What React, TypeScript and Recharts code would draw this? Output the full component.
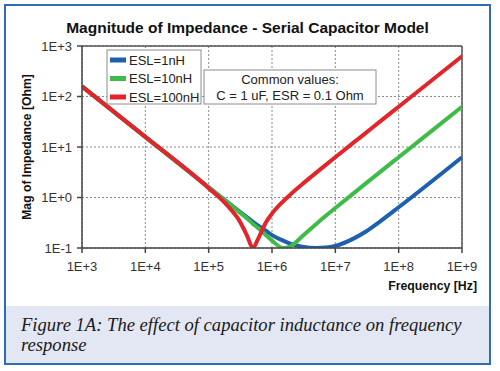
import { LineChart, Line, XAxis, YAxis, CartesianGrid, ReferenceLine } from "recharts";

// frequency points [Hz]
const frequencies = [
  1e3, 1e4, 1e5, 2e5, 3e5, 4e5, 5e5, 6e5, 8e5, 1e6, 1.5e6, 2e6, 3e6, 5e6, 7e6, 1e7, 2e7, 3e7, 5e7, 1e8, 1e9,
];

// |Z| [Ohm] per ESL
const esl1nH = [
  159, 15.9, 1.59, 0.8, 0.54, 0.41, 0.33, 0.28, 0.22, 0.18, 0.14, 0.12, 0.106, 0.1, 0.102, 0.11, 0.157, 0.21, 0.33, 0.64, 6.28,
];
const esl10nH = [
  159, 15.9, 1.585, 0.79, 0.52, 0.39, 0.3, 0.25, 0.18, 0.14, 0.1, 0.11, 0.17, 0.3, 0.43, 0.62, 1.25, 1.88, 3.14, 6.28, 62.8,
];
const esl100nH = [
  159, 15.9, 1.53, 0.68, 0.36, 0.18, 0.1, 0.15, 0.32, 0.48, 0.84, 1.18, 1.83, 3.11, 4.38, 6.27, 12.6, 18.8, 31.4, 62.8, 628,
];

const xTicks = [1e3, 1e4, 1e5, 1e6, 1e7, 1e8, 1e9];
const yTicks = [0.1, 1, 10, 100, 1000];

const series = [
  { key: "esl1", name: "ESL=1nH", color: "#1c60ae" },
  { key: "esl10", name: "ESL=10nH", color: "#3fbb47" },
  { key: "esl100", name: "ESL=100nH", color: "#e2252a" },
];

const data = frequencies.map((f, i) => ({
  f,
  esl1: esl1nH[i],
  esl10: esl10nH[i],
  esl100: esl100nH[i],
}));

const sciLabel = (v: number) => {
  const e = Math.round(Math.log10(v));
  return `1E${e < 0 ? "-" : "+"}${Math.abs(e)}`;
};

const FONT = '"Liberation Sans", Arial, sans-serif';

export default function App() {
  return (
    <div style={{ position: "absolute", left: 0, top: 0, width: 500, height: 371, background: "#fff", fontFamily: FONT }}>
      <svg width={500} height={371} style={{ position: "absolute", left: 0, top: 0 }}>
        <rect x={5} y={306} width={485} height={58} fill="#e3e7f3" />
      </svg>
      <div style={{ position: "absolute", left: 0, top: 0 }}>
        <LineChart width={500} height={371} data={data} margin={{ top: 46, right: 38, left: 0, bottom: 93 }}>
          <CartesianGrid strokeDasharray="2 2" stroke="#8a8a8a" horizontalValues={yTicks} verticalValues={xTicks} />
          <XAxis
            dataKey="f"
            type="number"
            scale="log"
            domain={[1e3, 1e9]}
            ticks={xTicks}
            tickFormatter={sciLabel}
            height={30}
            tickSize={5}
            tickMargin={9}
            stroke="#444"
            strokeWidth={1.5}
            tick={{ fontSize: 13, fill: "#333", fontFamily: FONT }}
            allowDataOverflow
          />
          <YAxis
            type="number"
            scale="log"
            domain={[0.1, 1000]}
            ticks={yTicks}
            tickFormatter={sciLabel}
            width={82}
            tickSize={5}
            tickMargin={5}
            stroke="#444"
            strokeWidth={1.5}
            tick={{ fontSize: 13, fill: "#333", fontFamily: FONT }}
            allowDataOverflow
          />
          <ReferenceLine x={1e9} stroke="#555" strokeWidth={1.5} />
          <ReferenceLine y={1000} stroke="#555" strokeWidth={1.5} />
          {series.map((s) => (
            <Line
              key={s.key}
              type="monotone"
              dataKey={s.key}
              stroke={s.color}
              strokeWidth={4}
              dot={false}
              isAnimationActive={false}
            />
          ))}
        </LineChart>
      </div>
      <svg width={500} height={371} style={{ position: "absolute", left: 0, top: 0, pointerEvents: "none" }}>
        <rect x={5} y={5} width={485} height={359} fill="none" stroke="#2f6db5" strokeWidth={2} />
        <text x={247.5} y={33} textAnchor="middle" fontSize={15.5} fontWeight="bold" fill="#111" fontFamily={FONT}>
          Magnitude of Impedance - Serial Capacitor Model
        </text>
        <text
          x={0}
          y={0}
          transform="translate(31,147) rotate(-90)"
          textAnchor="middle"
          fontSize={12.2}
          fontWeight="bold"
          fill="#111"
          fontFamily={FONT}
        >
          Mag of Impedance [Ohm]
        </text>
        <text x={477} y={290} textAnchor="end" fontSize={12.3} fontWeight="bold" fill="#111" fontFamily={FONT}>
          Frequency [Hz]
        </text>

        {/* legend */}
        <rect x={107} y={50} width={94} height={54} fill="#fff" stroke="#8c8c8c" strokeWidth={1} />
        {series.map((s, i) => (
          <g key={s.key}>
            <rect x={110} y={57.5 + i * 18.5} width={16} height={5} fill={s.color} />
            <text x={129} y={64.5 + i * 18.5} fontSize={13} fill="#222" fontFamily={FONT}>
              {s.name}
            </text>
          </g>
        ))}

        {/* note box */}
        <rect x={204} y={70} width={172} height={34} fill="#fff" stroke="#8c8c8c" strokeWidth={1} />
        <text x={290} y={83.5} textAnchor="middle" fontSize={13} fill="#222" fontFamily={FONT}>
          Common values:
        </text>
        <text x={290} y={99.5} textAnchor="middle" fontSize={13} fill="#222" fontFamily={FONT}>
          C = 1 uF, ESR = 0.1 Ohm
        </text>

        {/* caption */}
        <text x={21} y={331} fontSize={18.6} fontStyle="italic" fill="#1a1a1a" fontFamily='"Liberation Serif", serif'>
          Figure 1A: The effect of capacitor inductance on frequency
        </text>
        <text x={21} y={351} fontSize={18.6} fontStyle="italic" fill="#1a1a1a" fontFamily='"Liberation Serif", serif'>
          response
        </text>
      </svg>
    </div>
  );
}
